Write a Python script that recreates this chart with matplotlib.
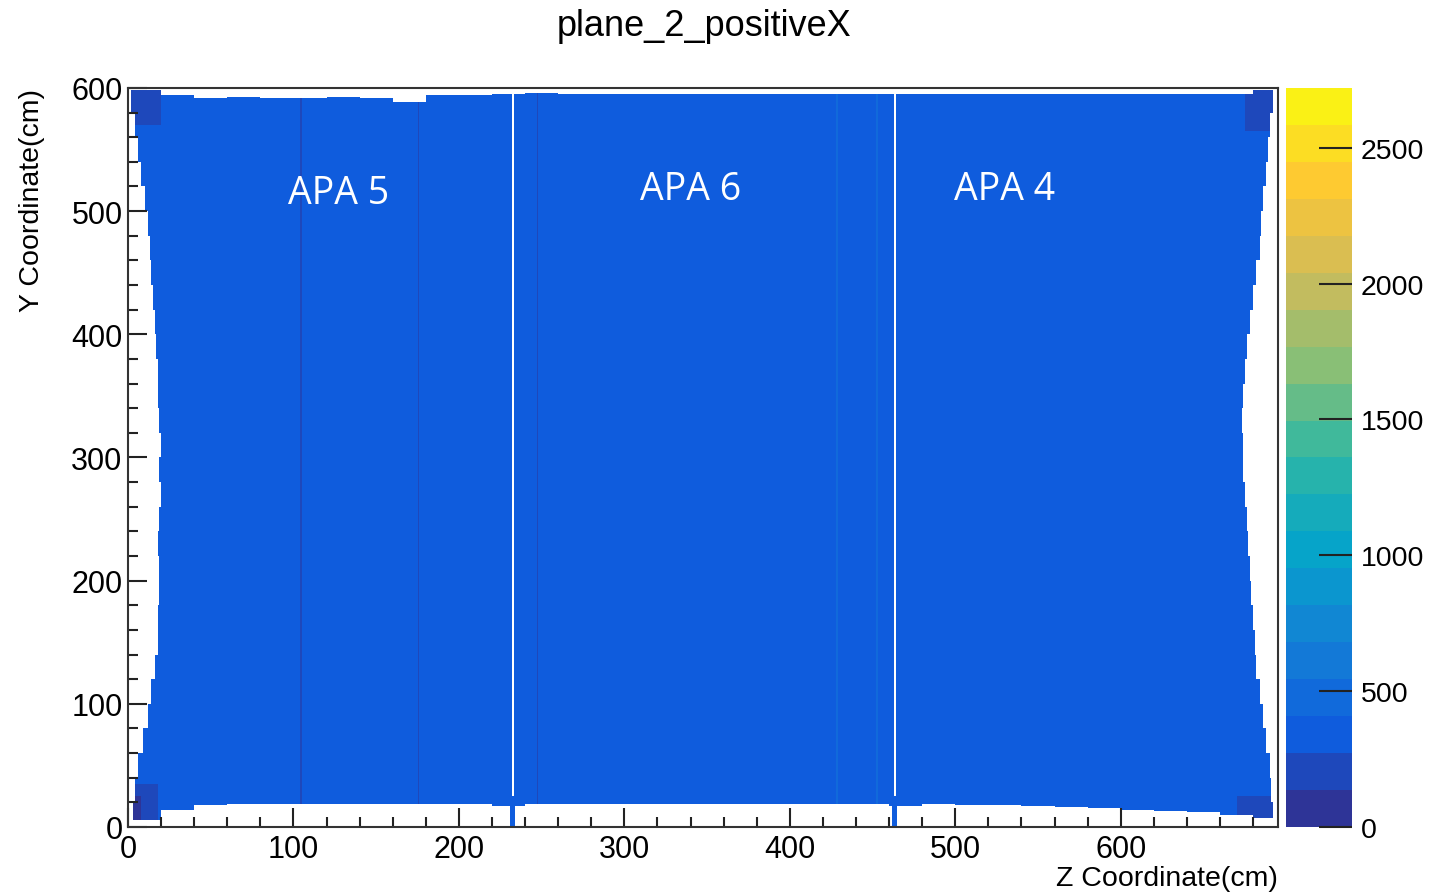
import numpy as np
import matplotlib
matplotlib.use("Agg")
import matplotlib.pyplot as plt
from matplotlib.colors import ListedColormap, BoundaryNorm, LinearSegmentedColormap

# ---------------- data ----------------
title = "plane_2_positiveX"
z_max = 695          # cm
y_max = 600          # cm
z_max_count = 2720   # top of the colour scale
n_levels = 20

base_count = 360     # typical bin content of the filled area

# empty (white) margin depth in cm, per 20 cm band (bottom -> top / left -> right)
left_margin = [3, 4, 6, 9, 12, 14, 16, 18, 18, 19, 19, 18, 19, 20, 19,
               20, 19, 18, 18, 17, 16, 15, 14, 13, 12, 10, 8, 6, 4, 2]
right_margin = [3, 4, 5, 7, 9, 11, 13, 14, 15, 16, 17, 18, 19, 20, 21,
                21, 22, 21, 20, 19, 17, 15, 13, 11, 10, 9, 7, 6, 5, 3]
bottom_margin = [6, 14, 18, 19, 19, 19, 19, 19, 19, 19, 19, 17, 19, 19, 19,
                 19, 19, 19, 19, 19, 19, 19, 19, 17, 19, 18, 18, 17, 16, 15,
                 14, 13, 12, 10, 7]
top_margin = [2, 6, 8, 7, 8, 8, 7, 8, 11, 6, 6, 5, 4, 5, 5,
              5, 5, 5, 5, 5, 5, 5, 5, 5, 5, 5, 5, 5, 5, 5,
              5, 5, 5, 5, 2]

# vertical structures (z in cm)
gap_z = [232, 463]            # empty columns between APAs
dark_z = [104, 175, 247]      # slightly lower columns
dark_count = 250
light_z = [428, 452]          # slightly higher columns
light_count = 450

# darker patches in the corners: z0, z1, y0, y1, count
corner_z0 = [0, 0, 0, 675, 670]
corner_z1 = [18, 8, 20, 695, 695]
corner_y0 = [0, 5, 570, 565, 0]
corner_y1 = [35, 25, 600, 600, 25]
corner_count = [230, 120, 230, 230, 230]

apa_names = ["APA 5", "APA 6", "APA 4"]
apa_z = [127, 340, 530]
apa_y = [515, 518, 518]

cbar_ticks = [0, 500, 1000, 1500, 2000, 2500]

# ---------------- build histogram ----------------
band = 20
z_edges = np.arange(0, z_max + 1, 1)
y_edges = np.arange(0, y_max + 1, 1)
zc = z_edges[:-1] + 0.5
yc = y_edges[:-1] + 0.5

H = np.full((len(yc), len(zc)), float(base_count))
for z in dark_z:
    H[:, int(z)] = dark_count
for z in light_z:
    H[:, int(z)] = light_count
for z0, z1, y0, y1, c in zip(corner_z0, corner_z1, corner_y0, corner_y1, corner_count):
    H[np.ix_((yc >= y0) & (yc < y1), (zc >= z0) & (zc < z1))] = c

ybi = np.minimum((yc // band).astype(int), len(left_margin) - 1)
zbi = np.minimum((zc // band).astype(int), len(bottom_margin) - 1)
lm = np.array(left_margin)[ybi][:, None]
rm = np.array(right_margin)[ybi][:, None]
bm = np.array(bottom_margin)[zbi][None, :]
tm = np.array(top_margin)[zbi][None, :]
Z, Y = np.meshgrid(zc, yc)
empty = (Z < lm) | (Z > z_max - rm) | (Y < bm) | (Y > y_max - tm)
# gaps: empty columns, with a narrow filled spike at the bottom
for g in gap_z:
    near = np.abs(zc - (g + 0.5)) < 1.6
    empty[np.ix_(yc < 25, near)] = False
    empty[yc >= 25, int(g)] = True

H = np.ma.masked_where(empty, H)

# ROOT kBird palette
stops = [0.0, 0.125, 0.25, 0.375, 0.5, 0.625, 0.75, 0.875, 1.0]
red = [0.2082, 0.0592, 0.0780, 0.0232, 0.1802, 0.5301, 0.8186, 0.9956, 0.9764]
green = [0.1664, 0.3599, 0.5041, 0.6419, 0.7178, 0.7492, 0.7328, 0.7862, 0.9832]
blue = [0.5293, 0.8684, 0.8385, 0.7914, 0.6425, 0.4662, 0.3499, 0.1968, 0.0539]
bird = LinearSegmentedColormap.from_list(
    "bird", list(zip(stops, zip(red, green, blue))))
cmap = ListedColormap([bird((i + 0.5) / n_levels) for i in range(n_levels)])
levels = np.linspace(0, z_max_count, n_levels + 1)
norm = BoundaryNorm(levels, cmap.N)

# ---------------- figure ----------------
fig = plt.figure(figsize=(14.29, 8.95), dpi=100)
ax = fig.add_axes([0.0896, 0.0749, 0.8047, 0.8257])
mesh = ax.pcolormesh(z_edges, y_edges, H, cmap=cmap, norm=norm, rasterized=True)
ax.set_xlim(0, z_max)
ax.set_ylim(0, y_max)

lab_font = "Liberation Sans"
ax.set_xticks(np.arange(0, 700, 100))
ax.set_xticks(np.arange(0, z_max, 20), minor=True)
ax.set_yticks(np.arange(0, 700, 100))
ax.set_yticks(np.arange(0, y_max, 20), minor=True)
ax.tick_params(which="both", direction="in", top=False, right=False,
               color="#222222", width=1.5, labelsize=22)
ax.tick_params(which="major", length=14)
ax.tick_params(which="minor", length=7)
ax.tick_params(axis="x", pad=5)
ax.tick_params(axis="y", pad=4)
for lab in ax.get_xticklabels() + ax.get_yticklabels():
    lab.set_fontfamily(lab_font)
for s in ax.spines.values():
    s.set_linewidth(1.5)
    s.set_color("#333333")

ax.set_xlabel("Z Coordinate(cm)", fontsize=20.5, family=lab_font,
              loc="right", labelpad=1)
ax.set_ylabel("Y Coordinate(cm)", fontsize=20.5, family=lab_font,
              loc="top", labelpad=19)

for name, z, y in zip(apa_names, apa_z, apa_y):
    ax.text(z, y, name, color="white", fontsize=27, family="Open Sans",
            ha="center", va="center")

fig.text(0.493, 0.99, title, fontsize=26, family=lab_font,
         ha="center", va="top")

cax = fig.add_axes([0.900, 0.0749, 0.0462, 0.8257])
cb = fig.colorbar(mesh, cax=cax, ticks=cbar_ticks)
cb.outline.set_visible(False)
cax.tick_params(direction="in", length=24, width=1.5, color="#222222",
                labelsize=20.5, pad=6)
for lab in cax.get_yticklabels():
    lab.set_fontfamily(lab_font)
cax.minorticks_off()

fig.savefig("out.png", dpi=100)
